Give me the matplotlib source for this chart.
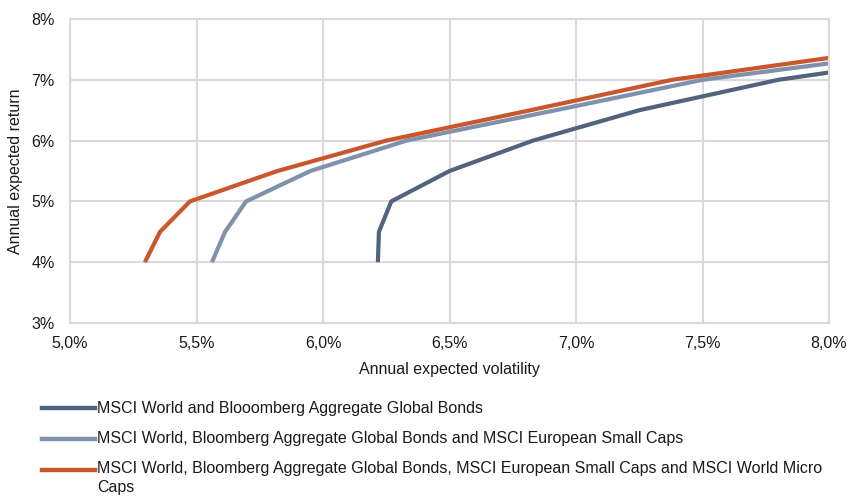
import matplotlib
matplotlib.use('Agg')
import matplotlib.pyplot as plt
from matplotlib.lines import Line2D
from matplotlib.ticker import FuncFormatter

plt.rcParams['font.family'] = ['Liberation Sans', 'DejaVu Sans']
plt.rcParams['font.size'] = 11.5

# efficient frontiers: volatility (%) vs expected return (%)
vol_world_bonds = [6.217, 6.221, 6.27, 6.50, 6.83, 7.25, 7.80, 8.00]
ret_world_bonds = [4.0, 4.5, 5.0, 5.5, 6.0, 6.5, 7.0, 7.12]

vol_small_caps = [5.561, 5.613, 5.696, 5.95, 6.33, 6.92, 7.50, 8.00]
ret_small_caps = [4.0, 4.5, 5.0, 5.5, 6.0, 6.5, 7.0, 7.27]

vol_micro_caps = [5.296, 5.356, 5.474, 5.82, 6.25, 6.82, 7.38, 8.00]
ret_micro_caps = [4.0, 4.5, 5.0, 5.5, 6.0, 6.5, 7.0, 7.36]

labels = [
    'MSCI World and Blooomberg Aggregate Global Bonds',
    'MSCI World, Bloomberg Aggregate Global Bonds and MSCI European Small Caps',
    'MSCI World, Bloomberg Aggregate Global Bonds, MSCI European Small Caps and MSCI World Micro\nCaps',
]
colors = ['#51637d', '#7f91ab', '#c9562c']

x_ticks = [5.0, 5.5, 6.0, 6.5, 7.0, 7.5, 8.0]
y_ticks = [3, 4, 5, 6, 7, 8]

fig = plt.figure(figsize=(8.47, 5.01), dpi=100)
ax = fig.add_axes([70 / 847, 1 - 323 / 501, (829 - 70) / 847, (323 - 19) / 501])

series = [(vol_world_bonds, ret_world_bonds),
          (vol_small_caps, ret_small_caps),
          (vol_micro_caps, ret_micro_caps)]
for (x, y), c in zip(series, colors):
    ax.plot(x, y, color=c, lw=3, solid_capstyle='butt', solid_joinstyle='round')

ax.set_xlim(5.0, 8.0)
ax.set_ylim(3, 8)
ax.set_xticks(x_ticks)
ax.set_yticks(y_ticks)
ax.xaxis.set_major_formatter(FuncFormatter(lambda v, p: f'{v:.1f}%'.replace('.', ',')))
ax.yaxis.set_major_formatter(FuncFormatter(lambda v, p: f'{v:.0f}%'))
ax.tick_params(length=0, labelsize=11.5, colors='#1a1a1a')
ax.tick_params(axis='y', pad=11)
ax.tick_params(axis='x', pad=9)
ax.grid(True, color='#d9d9d9', lw=1.5)
ax.set_axisbelow(True)
for s in ax.spines.values():
    s.set_color('#d9d9d9')
    s.set_linewidth(1.5)

ax.set_xlabel('Annual expected volatility', fontsize=11.5, color='#1a1a1a', labelpad=8)
ax.set_ylabel('Annual expected return', fontsize=11.5, color='#1a1a1a', labelpad=6)

# legend drawn below the plot
legend_y = [408, 439, 470]
for lab, c, yy in zip(labels, colors, legend_y):
    fy = 1 - yy / 501
    fig.add_artist(Line2D([42 / 847, 95 / 847], [fy, fy], color=c, lw=3.2,
                          transform=fig.transFigure))
    if '\n' in lab:
        fig.text(97 / 847, fy + 9 / 501, lab, fontsize=11.5, color='#1a1a1a',
                 va='top', linespacing=1.3)
    else:
        fig.text(97 / 847, fy, lab, fontsize=11.5, color='#1a1a1a', va='center')

fig.savefig('out.png', dpi=100)
